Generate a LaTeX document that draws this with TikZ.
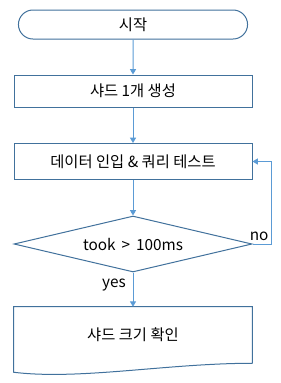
\documentclass[tikz,border=0pt]{standalone}
\usepackage{fontspec}
\setmainfont{Noto Sans CJK KR}
\usepackage{tikz}
\usetikzlibrary{arrows.meta,positioning,calc,shapes.geometric,shapes.misc}
\definecolor{boxEdge}{RGB}{65, 113, 156}
\definecolor{flowBlue}{RGB}{91, 155, 213}

\begin{document}
\begin{tikzpicture}[
    x=0.75pt, y=-0.75pt,
    terminal/.style={draw=boxEdge, fill=white, rounded rectangle, line width=0.75pt, minimum width=178.5pt, minimum height=21.75pt, font=\fontsize{11.5pt}{13pt}\selectfont},
    process/.style={draw=boxEdge, fill=white, line width=0.75pt, minimum width=178.5pt, font=\fontsize{11.5pt}{13pt}\selectfont},
    decision/.style={draw=boxEdge, fill=white, diamond, aspect=4.25, inner sep=0pt, line width=0.75pt, minimum width=178.5pt, minimum height=42pt, font=\fontsize{11.5pt}{13pt}\selectfont},
    docshape/.style={minimum width=178.5pt, minimum height=42pt, font=\fontsize{11.5pt}{13pt}\selectfont},
    arr/.style={-{Triangle[length=4pt, width=4.5pt]}, line width=0.75pt, color=flowBlue},
    lbl/.style={font=\fontsize{11.5pt}{13pt}\selectfont, text=black, inner sep=2pt}
  ]
    \useasboundingbox (0,0) rectangle (280,383);

    % START
    \node[terminal] (start) at (133, 24.5) {시작};
    \node[process, minimum height=24pt] (shard) at (133, 91) {샤드 1개 생성};
    \node[process, minimum height=27pt] (test) at (133, 161.5) {데이터 인입 \& 쿼리 테스트};

    % CHECK
    \node[decision] (check) at (133, 244) {took \,>\, 100ms};

    % RESULT
    \node[docshape] (size) at (133, 335) {샤드 크기 확인};
    \draw[draw=boxEdge, line width=0.75pt] (size.south east) -- (size.north east) -- (size.north west)
      -- ($(size.south west)+(0,9)$) .. controls +(66,8) and +(-85,0) .. (size.south east);

    \draw[arr] (start) -- (shard);
    \draw[arr] (shard) -- (test);
    \draw[arr] (test) -- (check);
    \draw[arr] (check.east) -- node[lbl, above, pos=0.35]{no} ++(19,0) |- (test.east);
    \draw[arr] (check.south) -- node[lbl, left, pos=0.37, xshift=-3pt]{yes} (size.north);
\end{tikzpicture}
\end{document}
